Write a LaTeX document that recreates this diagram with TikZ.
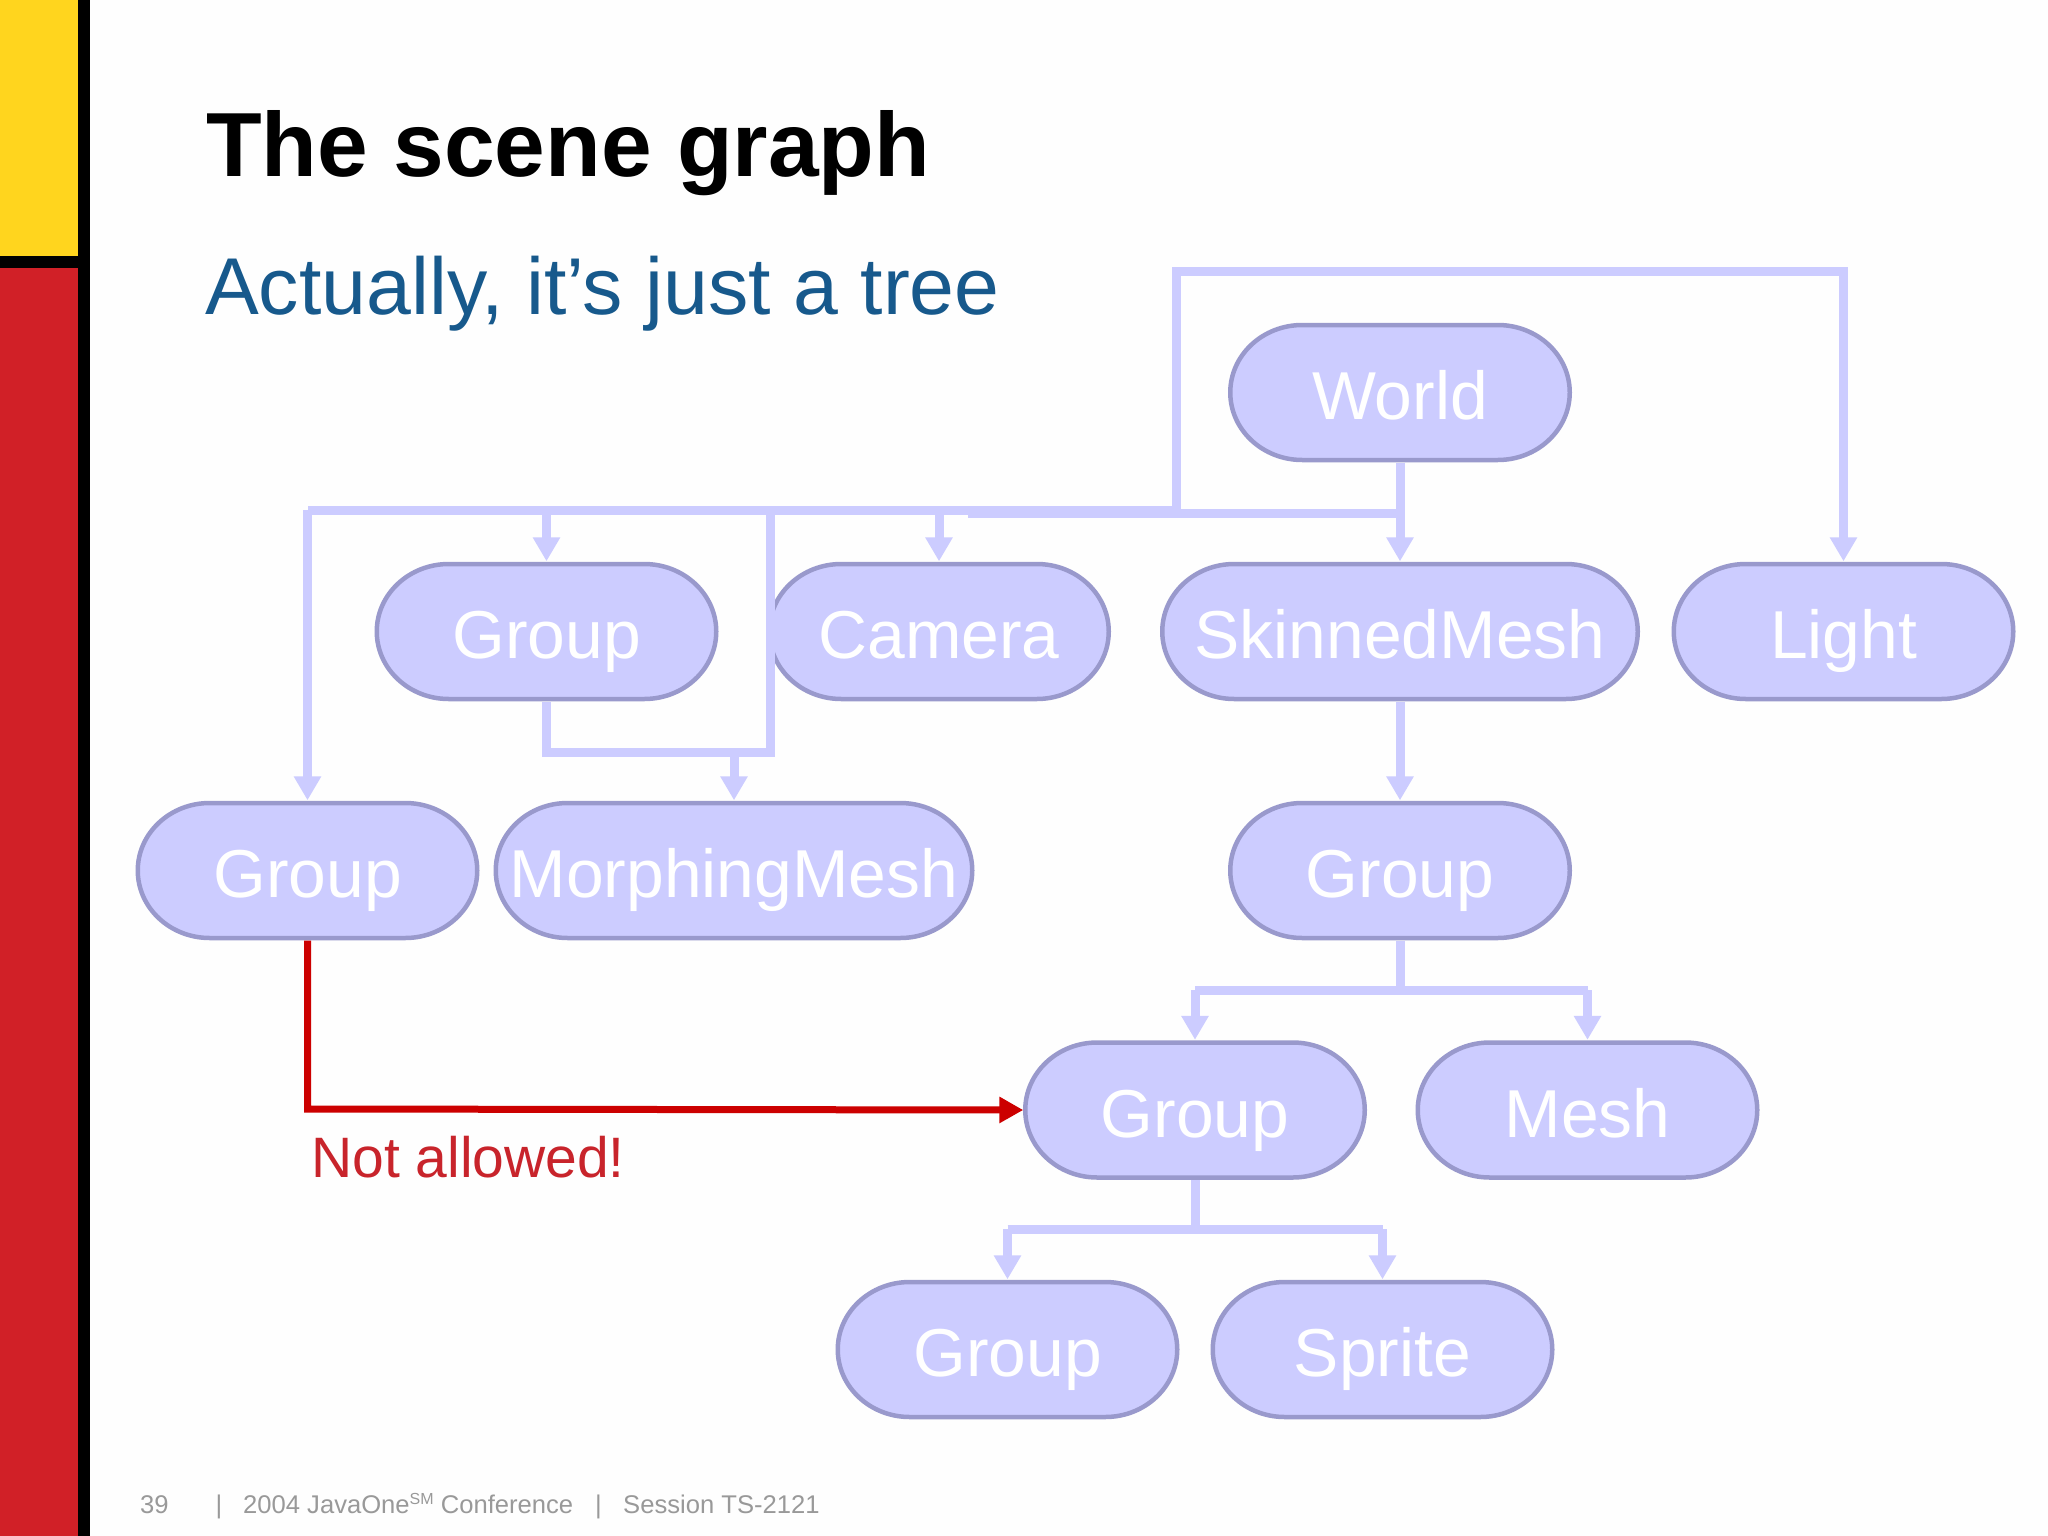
\documentclass[tikz,border=0pt]{standalone}
\usepackage{fontspec}
\setmainfont{Liberation Sans}
\usetikzlibrary{arrows.meta}
\definecolor{pillfill}{HTML}{CCCCFF}
\definecolor{pilledge}{HTML}{9999CC}
\definecolor{titleblue}{HTML}{17598C}
\definecolor{stopred}{HTML}{CC0000}
\definecolor{noterd}{HTML}{C8242B}
\definecolor{barred}{HTML}{D12027}
\definecolor{baryel}{HTML}{FFD51E}
\definecolor{footgray}{HTML}{999999}
\tikzset{
  pilltext/.style={inner sep=0pt,minimum height=140pt,text height=54pt,text depth=0pt,text=white,font=\fontsize{67.8}{67.8}\selectfont},
  pilledgestyle/.style={fill=pillfill,draw=pilledge,line width=4.5pt},
  link/.style={draw=pillfill,line width=9pt,line join=miter},
  linkarrow/.style={link,-{Triangle[length=24pt,width=26pt]}},
  redarrow/.style={draw=stopred,line width=7pt,-{Triangle[length=24pt,width=25pt]}},
  lab/.style={inner sep=0pt,anchor=base west},
  foot/.style={lab,text=footgray,font=\fontsize{25.6}{25.6}\selectfont},
}
% name, cx, cy, total width, text
\newcommand{\pillnode}[5]{%
  \pgfmathsetmacro{\pl}{#2-(#4)/2+1.75}%
  \pgfmathsetmacro{\pr}{#2+(#4)/2-1.75}%
  \pgfmathsetmacro{\pa}{\pl+72}%
  \pgfmathsetmacro{\pb}{\pr-72}%
  \pgfmathsetmacro{\pt}{#3-67.5}%
  \pgfmathsetmacro{\pu}{#3+67.5}%
  \path[pilledgestyle] (\pa,\pt) -- (\pb,\pt)
     arc[start angle=270,end angle=360,x radius=72,y radius=67.5]
     arc[start angle=0,end angle=90,x radius=72,y radius=67.5]
     -- (\pa,\pu)
     arc[start angle=90,end angle=180,x radius=72,y radius=67.5]
     arc[start angle=180,end angle=270,x radius=72,y radius=67.5] -- cycle;
  \node[pilltext,minimum width=#4 pt] (#1) at (#2,#3) {#5};%
}
\begin{document}
\begin{tikzpicture}[x=1pt,y=-1pt]
\useasboundingbox (0,0) rectangle (2048,1536);
\fill[white!99.5!black] (0,0) rectangle (2048,1536);
% left bars
\fill[barred] (0,0) rectangle (78,1536);
\fill[baryel] (0,0) rectangle (78,256);
\fill[black] (0,256) rectangle (90,268);
\fill[black] (78,0) rectangle (90,1536);
% titles
\node[lab,font=\fontsize{91.1}{91.1}\selectfont\bfseries,text=black] (title) at (206,176) {The scene graph};
\node[lab,font=\fontsize{80.6}{80.6}\selectfont,text=titleblue] (subtitle) at (205,314) {Actually, it’s just a tree};
% nodes
\pillnode{world}{1400}{392.5}{343}{World}
\pillnode{groupa}{546.5}{631.5}{343}{Group}
\pillnode{camera}{939}{631.5}{343}{Camera}
\pillnode{skin}{1400}{631.5}{479}{SkinnedMesh}
\pillnode{light}{1843.5}{631.5}{343}{Light}
\pillnode{groupb}{307.5}{870.5}{343}{Group}
\pillnode{morph}{734}{870.5}{480}{MorphingMesh}
\pillnode{groupc}{1400}{870.5}{343}{Group}
\pillnode{groupd}{1195}{1110}{343}{Group}
\pillnode{mesh}{1587.5}{1110}{343}{Mesh}
\pillnode{groupe}{1007.5}{1349.5}{343}{Group}
\pillnode{sprite}{1382.5}{1349.5}{343}{Sprite}
% junction points
\coordinate (wjoin) at (1400,513);
\coordinate (wstep) at (968,513);
\coordinate (topL) at (1176,510);
\coordinate (topLup) at (1176,271);
\coordinate (busL) at (307.5,510);
\coordinate (busA) at (546.5,510);
\coordinate (busC) at (939,510);
\coordinate (busV) at (770,510);
\coordinate (lowV) at (770,752);
\coordinate (lowA) at (546.5,752);
\coordinate (lowM) at (734,752);
\coordinate (cjoin) at (1400,990);
\coordinate (cd) at (1195,990);
\coordinate (cm) at (1587.5,990);
\coordinate (djoin) at (1195,1229);
\coordinate (de) at (1007.5,1229);
\coordinate (ds) at (1382.5,1229);
\coordinate (redcorner) at (307.5,1109);
% connectors
\draw[linkarrow] (world.south) -- (skin.north);
\draw[link] (wjoin) -- (wstep);
\draw[linkarrow] (topL) -- (topLup) -| (light.north);
\draw[link] (topL) -- (busL);
\draw[linkarrow] (busL) -- (groupb.north);
\draw[linkarrow] (busA) -- (groupa.north);
\draw[linkarrow] (busC) -- (camera.north);
\draw[link] (busV) -- (lowV) -- (lowA) -- (groupa.south);
\draw[linkarrow] (lowM) -- (morph.north);
\draw[linkarrow] (skin.south) -- (groupc.north);
\draw[link] (groupc.south) -- (cjoin);
\draw[link] (cd) -- (cm);
\draw[linkarrow] (cd) -- (groupd.north);
\draw[linkarrow] (cm) -- (mesh.north);
\draw[link] (groupd.south) -- (djoin);
\draw[link] (de) -- (ds);
\draw[linkarrow] (de) -- (groupe.north);
\draw[linkarrow] (ds) -- (sprite.north);
\draw[redarrow] (groupb.south) -- (redcorner) -- (groupd.west);
% note
\node[lab,font=\fontsize{57}{57}\selectfont,text=noterd] (note) at (311,1177) {Not allowed!};
% footer
\node[foot] (fa) at (140,1513.5) {39};
\node[foot] (fb) at (215.5,1513.5) {|};
\node[foot] (fc) at (243,1513.5) {2004 JavaOne\raisebox{9pt}{\fontsize{16}{16}\selectfont SM} Conference};
\node[foot] (fd) at (595,1513.5) {|};
\node[foot] (fe) at (623,1513.5) {Session TS-2121};
\end{tikzpicture}
\end{document}
